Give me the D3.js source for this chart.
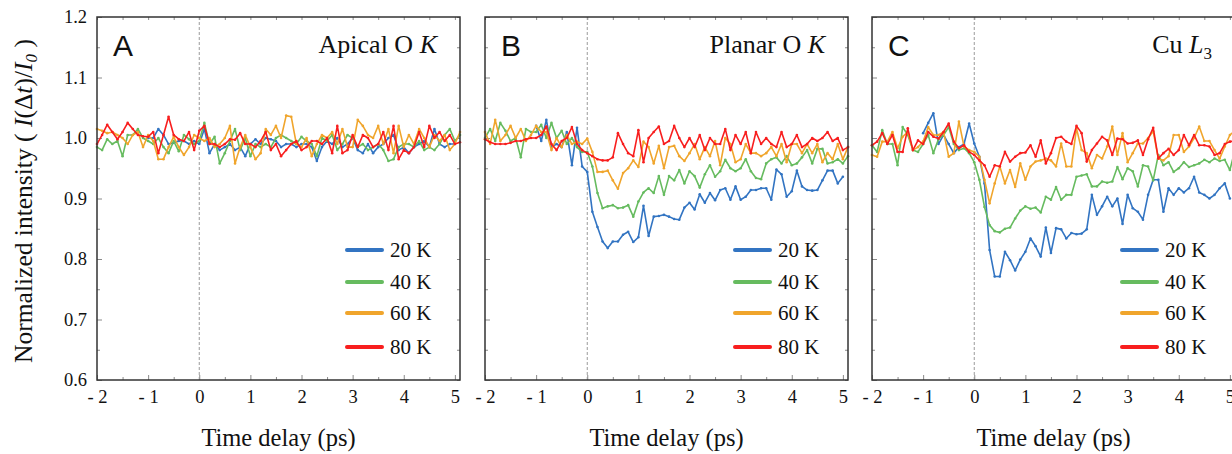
<!DOCTYPE html>
<html>
<head>
<meta charset="utf-8">
<script src="https://cdn.jsdelivr.net/npm/d3@7"></script>
<style>
  body { margin: 0; background: #fff; }
  svg { display: block; }
</style>
</head>
<body>
<script>
// time delays (ps) for the 40/60/80 K scans and for the shorter 20 K scans
const delays = [-2.0,-1.9,-1.8,-1.7,-1.6,-1.5,-1.4,-1.3,-1.2,-1.1,-1.0,-0.9,-0.8,-0.7,-0.6,-0.5,-0.4,-0.3,-0.2,-0.1,
  0.0,0.1,0.2,0.3,0.4,0.5,0.6,0.7,0.8,0.9,1.0,1.1,1.2,1.3,1.4,1.5,1.6,1.7,1.8,1.9,2.0,2.1,2.2,2.3,2.4,2.5,2.6,2.7,2.8,2.9,
  3.0,3.1,3.2,3.3,3.4,3.5,3.6,3.7,3.8,3.9,4.0,4.1,4.2,4.3,4.4,4.5,4.6,4.7,4.8,4.9,5.0,5.1];
const delays20 = [-1.0,-0.9,-0.8,-0.7,-0.6,-0.5,-0.4,-0.3,-0.2,-0.1,
  0.0,0.1,0.2,0.3,0.4,0.5,0.6,0.7,0.8,0.9,1.0,1.1,1.2,1.3,1.4,1.5,1.6,1.7,1.8,1.9,2.0,2.1,2.2,2.3,2.4,2.5,2.6,2.7,2.8,2.9,
  3.0,3.1,3.2,3.3,3.4,3.5,3.6,3.7,3.8,3.9,4.0,4.1,4.2,4.3,4.4,4.5,4.6,4.7,4.8,4.9,5.0];

// A: apical O K
const apical20 = [1.0,1.0,1.015,1.005,0.99,0.992,0.995,0.995,0.99,0.995,
  0.99,1.015,0.975,0.99,0.98,0.985,0.99,0.98,0.985,0.97,
  0.99,0.998,0.99,1.0,0.998,0.995,0.985,0.99,0.99,0.985,
  0.99,0.99,0.985,0.962,0.985,0.995,0.99,1.0,0.985,0.99,
  1.0,0.98,0.975,0.99,0.975,0.985,0.99,1.0,1.005,0.98,
  0.985,0.975,0.985,0.99,0.995,0.985,1.015,0.99,0.985,0.99,
  0.99];
const apical40 = [0.985,0.98,0.998,0.99,0.995,0.97,1.005,1.005,1.015,1.0,
  0.995,0.99,1.0,0.985,0.975,0.995,0.978,1.005,0.998,0.99,
  0.995,1.025,0.99,1.002,0.958,0.975,0.995,1.015,0.98,1.0,
  0.97,0.99,0.985,0.99,0.985,1.0,1.005,1.0,0.995,0.99,
  1.002,0.995,0.99,0.97,1.0,0.995,1.005,0.98,0.99,1.005,
  1.0,0.985,0.99,0.98,0.985,0.99,0.98,0.962,0.965,0.985,
  0.99,0.99,0.985,0.995,0.98,0.985,0.98,0.99,1.005,1.015,
  0.995,1.005];
const apical60 = [1.015,1.012,1.008,1.01,1.005,1.0,0.99,1.005,1.01,0.985,
  1.005,0.995,0.965,0.965,0.985,1.002,0.985,0.972,0.985,1.005,
  1.0,0.995,1.0,0.985,0.99,1.0,1.02,0.958,0.985,1.005,
  0.985,0.965,0.975,1.015,1.005,1.02,1.0,1.037,1.035,0.99,
  0.985,1.0,0.97,0.99,1.005,1.0,1.01,0.99,1.015,0.985,
  0.985,1.03,1.02,1.005,1.0,1.02,0.99,1.015,0.975,1.02,
  0.985,1.005,0.99,1.015,1.0,0.985,1.005,0.995,1.005,0.98,
  0.99,1.01];
const apical80 = [0.99,1.005,1.022,1.01,0.998,1.01,1.025,1.015,1.005,1.003,
  1.002,1.01,0.975,1.005,1.035,1.005,0.998,0.995,1.01,0.98,
  1.012,1.02,0.99,0.99,0.985,0.99,0.998,0.997,1.008,0.99,
  0.99,0.985,0.995,1.01,0.98,0.99,0.97,0.98,0.99,0.995,
  0.98,0.985,0.995,0.995,0.99,1.0,0.975,1.02,0.975,0.98,
  1.005,0.985,1.005,1.0,0.985,0.99,1.01,0.98,1.02,0.965,
  0.98,0.975,0.985,1.01,0.985,1.02,1.0,1.01,0.995,1.005,
  0.99,0.993];

// B: planar O K
const planar20 = [1.02,0.995,1.03,0.985,0.99,0.985,1.01,0.955,1.017,0.953,
  0.944,0.878,0.853,0.829,0.818,0.829,0.829,0.84,0.845,0.828,
  0.836,0.888,0.838,0.87,0.871,0.873,0.87,0.866,0.865,0.885,
  0.893,0.882,0.907,0.893,0.909,0.897,0.914,0.917,0.898,0.92,
  0.898,0.903,0.914,0.914,0.917,0.917,0.898,0.948,0.94,0.903,
  0.912,0.946,0.92,0.914,0.913,0.914,0.93,0.946,0.946,0.925,
  0.936];
const planar40 = [1.0,1.015,0.995,1.025,1.012,0.995,1.0,0.968,1.015,1.01,
  1.01,1.022,1.0,1.025,1.0,1.012,0.99,1.0,0.985,0.977,
  0.977,0.953,0.909,0.884,0.887,0.889,0.884,0.885,0.889,0.87,
  0.895,0.91,0.917,0.909,0.937,0.906,0.937,0.93,0.947,0.925,
  0.945,0.937,0.918,0.94,0.955,0.936,0.945,0.964,0.95,0.945,
  0.95,0.965,0.945,0.934,0.932,0.958,0.965,0.968,0.958,0.97,
  0.955,0.958,0.968,0.98,0.958,0.982,0.982,0.958,0.96,0.965,
  0.958,0.97];
const planar60 = [1.01,0.99,1.03,0.995,1.005,1.02,1.0,1.015,0.995,1.005,
  1.02,1.01,1.01,0.98,1.0,0.985,1.005,0.99,0.994,0.99,
  0.999,0.977,0.944,0.944,0.946,0.93,0.916,0.942,0.95,0.963,
  0.952,0.994,0.985,0.958,0.987,0.95,0.985,0.987,0.97,0.962,
  0.975,0.99,0.965,0.985,0.97,0.995,0.955,1.0,0.99,0.96,
  0.965,0.99,0.975,0.975,0.97,0.975,0.985,0.97,0.99,0.96,
  0.99,0.99,0.975,0.99,0.975,0.99,0.96,0.975,0.965,0.99,
  0.965,0.985];
const planar80 = [0.998,0.993,0.99,0.99,0.99,0.992,0.995,0.995,0.998,1.0,
  1.0,1.005,1.019,0.99,0.98,0.995,1.0,1.018,0.99,0.98,
  0.975,0.97,0.965,0.963,0.963,0.968,1.008,0.99,0.975,0.97,
  1.013,0.96,1.0,1.01,1.019,0.99,0.995,1.02,1.0,0.985,
  1.0,0.985,1.005,0.98,1.0,0.99,0.99,1.015,0.98,1.005,
  0.99,1.01,0.975,1.01,0.99,1.0,0.99,0.985,1.01,0.985,
  0.99,1.005,0.985,0.99,1.0,0.995,1.0,1.01,0.995,1.0,
  0.98,0.985];

// C: Cu L3
const cu20 = [1.008,1.025,1.041,0.99,1.005,0.99,0.975,0.985,0.99,1.024,
  0.991,0.969,0.925,0.815,0.771,0.771,0.812,0.798,0.781,0.799,
  0.812,0.834,0.821,0.804,0.852,0.81,0.851,0.849,0.834,0.843,
  0.841,0.842,0.849,0.906,0.873,0.887,0.903,0.887,0.9,0.858,
  0.906,0.884,0.878,0.865,0.906,0.931,0.931,0.878,0.917,0.906,
  0.917,0.91,0.917,0.936,0.91,0.906,0.9,0.906,0.917,0.925,
  0.9];
const cu40 = [0.988,0.977,1.013,0.99,0.99,0.955,1.018,1.005,0.98,0.977,
  0.99,1.005,0.975,0.998,1.005,1.018,0.99,0.98,0.983,0.975,
  0.96,0.931,0.886,0.856,0.846,0.844,0.85,0.852,0.867,0.88,
  0.887,0.883,0.885,0.877,0.903,0.898,0.919,0.898,0.906,0.906,
  0.936,0.938,0.94,0.92,0.92,0.928,0.926,0.928,0.952,0.932,
  0.95,0.945,0.92,0.955,0.953,0.93,0.972,0.955,0.96,0.944,
  0.95,0.96,0.952,0.955,0.958,0.964,0.96,0.966,0.962,0.964,
  0.947,0.98];
const cu60 = [0.972,0.969,0.994,0.994,1.01,0.983,1.002,1.01,0.98,0.985,
  0.994,1.018,1.005,1.005,1.01,0.969,0.975,1.027,0.986,0.98,
  0.977,0.969,0.931,0.892,0.925,0.953,0.925,0.947,0.919,0.958,
  0.931,0.953,0.961,0.963,0.966,0.963,0.953,0.991,0.953,0.953,
  1.016,0.98,0.975,0.95,0.972,0.966,0.986,1.019,0.972,1.008,
  0.96,0.975,0.991,0.991,1.0,1.011,0.966,0.963,0.97,1.005,
  1.005,0.977,0.986,1.0,1.019,0.995,0.995,0.98,0.966,0.986,
  1.005,1.012];
const cu80 = [0.988,0.994,1.008,0.99,1.005,0.977,0.977,1.016,0.98,0.996,
  0.99,1.01,1.002,0.999,1.01,1.024,0.994,0.983,0.988,0.977,
  0.972,0.963,0.955,0.936,0.955,0.953,0.977,0.961,0.969,0.975,
  0.976,0.988,0.969,0.996,0.958,0.975,1.0,1.002,0.994,0.99,
  1.02,1.008,0.961,0.98,0.991,1.002,0.996,0.972,0.999,0.998,
  0.991,0.992,0.996,0.972,0.998,1.017,0.966,0.975,0.982,0.972,
  0.98,1.005,0.988,1.005,0.988,0.988,0.986,0.972,0.975,0.99,
  0.994,0.995];

const temps = ["20 K", "40 K", "60 K", "80 K"];
const colors = ["#3274c2", "#66bb5f", "#f0a52c", "#f81e1e"];
const xTicks = [-2, -1, 0, 1, 2, 3, 4, 5];
const xMinor = [-1.5, -0.5, 0.5, 1.5, 2.5, 3.5, 4.5];
const yTicks = [0.6, 0.7, 0.8, 0.9, 1.0, 1.1, 1.2];
const yMinor = [0.65, 0.75, 0.85, 0.95, 1.05, 1.15];

const panels = [
  { letter: "A", title: [["Apical O ", null], ["K", "i"]], series: [apical20, apical40, apical60, apical80] },
  { letter: "B", title: [["Planar O ", null], ["K", "i"]], series: [planar20, planar40, planar60, planar80] },
  { letter: "C", title: [["Cu ", null], ["L", "i"], ["3", "sub"]], series: [cu20, cu40, cu60, cu80] }
];

const width = 1232, height = 454;
const plotTop = 17, plotBottom = 380, pw = 363;
const lefts = [97, 485, 872];
const serif = "Liberation Serif, Tinos, Times New Roman, Times, DejaVu Serif, serif";

const svg = d3.select("body").append("svg")
  .attr("width", width)
  .attr("height", height);

const x = d3.scaleLinear().domain([-2, 5.1]).range([0, pw]);
const y = d3.scaleLinear().domain([0.6, 1.2]).range([plotBottom, plotTop]);

const line = d3.line().x(d => x(d[0])).y(d => y(d[1]));
const fmtX = d => (d < 0 ? "- " + Math.abs(d) : String(d));

panels.forEach((p, i) => {
  const g = svg.append("g").attr("transform", `translate(${lefts[i]},0)`);

  // ticks, all pointing inward
  const tickStyle = sel => {
    sel.select(".domain").remove();
    sel.selectAll(".tick line").attr("stroke", "#8a8a8a");
    sel.selectAll("text").style("font-family", serif).style("font-size", "18.5px").attr("fill", "#111");
  };
  g.append("g").attr("transform", `translate(0,${plotBottom})`)
    .call(d3.axisBottom(x).tickValues(xTicks).tickSizeInner(-5).tickSizeOuter(0).tickPadding(10).tickFormat(fmtX))
    .call(tickStyle);
  g.append("g").attr("transform", `translate(0,${plotBottom})`)
    .call(d3.axisBottom(x).tickValues(xMinor).tickSizeInner(-3).tickSizeOuter(0).tickFormat(""))
    .call(tickStyle);
  g.append("g").attr("transform", `translate(0,${plotTop})`)
    .call(d3.axisTop(x).tickValues(xTicks.concat(xMinor)).tickSizeInner(-3).tickSizeOuter(0).tickFormat(""))
    .call(tickStyle);
  g.append("g")
    .call(d3.axisLeft(y).tickValues(yTicks).tickSizeInner(-5).tickSizeOuter(0).tickPadding(10)
      .tickFormat(i === 0 ? d3.format(".1f") : ""))
    .call(tickStyle);
  g.append("g")
    .call(d3.axisLeft(y).tickValues(yMinor).tickSizeInner(-3).tickSizeOuter(0).tickFormat(""))
    .call(tickStyle);
  g.append("g").attr("transform", `translate(${pw},0)`)
    .call(d3.axisRight(y).tickValues(yTicks.concat(yMinor)).tickSizeInner(-3).tickSizeOuter(0).tickFormat(""))
    .call(tickStyle);

  // time zero
  g.append("line")
    .attr("x1", x(0)).attr("x2", x(0))
    .attr("y1", plotTop).attr("y2", plotBottom)
    .attr("stroke", "#9a9a9a")
    .attr("stroke-width", 1)
    .attr("stroke-dasharray", "3,2");

  // data
  p.series.forEach((vals, k) => {
    const t = k === 0 ? delays20 : delays;
    const pts = d3.zip(t, vals);
    g.append("path")
      .datum(pts)
      .attr("d", line)
      .attr("fill", "none")
      .attr("stroke", colors[k])
      .attr("stroke-width", 1.6)
      .attr("stroke-linejoin", "round");
    g.append("g").selectAll("circle")
      .data(pts)
      .join("circle")
      .attr("cx", d => x(d[0]))
      .attr("cy", d => y(d[1]))
      .attr("r", 1.3)
      .attr("fill", colors[k]);
  });

  // frame
  g.append("rect")
    .attr("x", 0).attr("y", plotTop)
    .attr("width", pw).attr("height", plotBottom - plotTop)
    .attr("fill", "none")
    .attr("stroke", "#333")
    .attr("stroke-width", 1.5);

  // panel letter + title
  g.append("text")
    .attr("x", 16).attr("y", 56)
    .style("font-family", "Liberation Sans, Arial, sans-serif")
    .style("font-size", "30px")
    .attr("fill", "#111")
    .text(p.letter);

  const title = g.append("text")
    .attr("x", 340).attr("y", 53)
    .attr("text-anchor", "end")
    .style("font-family", serif)
    .style("font-size", "26px")
    .attr("fill", "#111");
  p.title.forEach(([s, style]) => {
    const ts = title.append("tspan").text(s);
    if (style === "i") ts.style("font-style", "italic");
    if (style === "sub") ts.style("font-size", "17px").attr("dy", 6);
  });

  // legend
  const leg = g.append("g");
  temps.forEach((label, k) => {
    const ly = [250, 282, 313, 347][k];
    leg.append("line")
      .attr("x1", 250).attr("x2", 285)
      .attr("y1", ly).attr("y2", ly)
      .attr("stroke", colors[k])
      .attr("stroke-width", 4)
      .attr("stroke-linecap", "round");
    leg.append("text")
      .attr("x", 293).attr("y", ly + 7)
      .style("font-family", serif)
      .style("font-size", "21px")
      .attr("fill", "#111")
      .text(label);
  });

  // x title
  g.append("text")
    .attr("x", pw / 2).attr("y", 446)
    .attr("text-anchor", "middle")
    .style("font-family", serif)
    .style("font-size", "24.5px")
    .attr("fill", "#111")
    .text("Time delay (ps)");
});

// y title
const yt = svg.append("text")
  .attr("transform", "rotate(-90)")
  .attr("x", -201).attr("y", 32)
  .attr("text-anchor", "middle")
  .style("font-family", serif)
  .style("font-size", "25.5px")
  .attr("fill", "#111");
yt.append("tspan").text("Normalized intensity ( ");
yt.append("tspan").style("font-style", "italic").text("I");
yt.append("tspan").text("(Δ");
yt.append("tspan").style("font-style", "italic").text("t");
yt.append("tspan").text(")/");
yt.append("tspan").style("font-style", "italic").text("I");
yt.append("tspan").style("font-style", "italic").style("font-size", "17px").attr("dy", 5).text("0");
yt.append("tspan").attr("dy", -5).text(" )");
</script>
</body>
</html>
